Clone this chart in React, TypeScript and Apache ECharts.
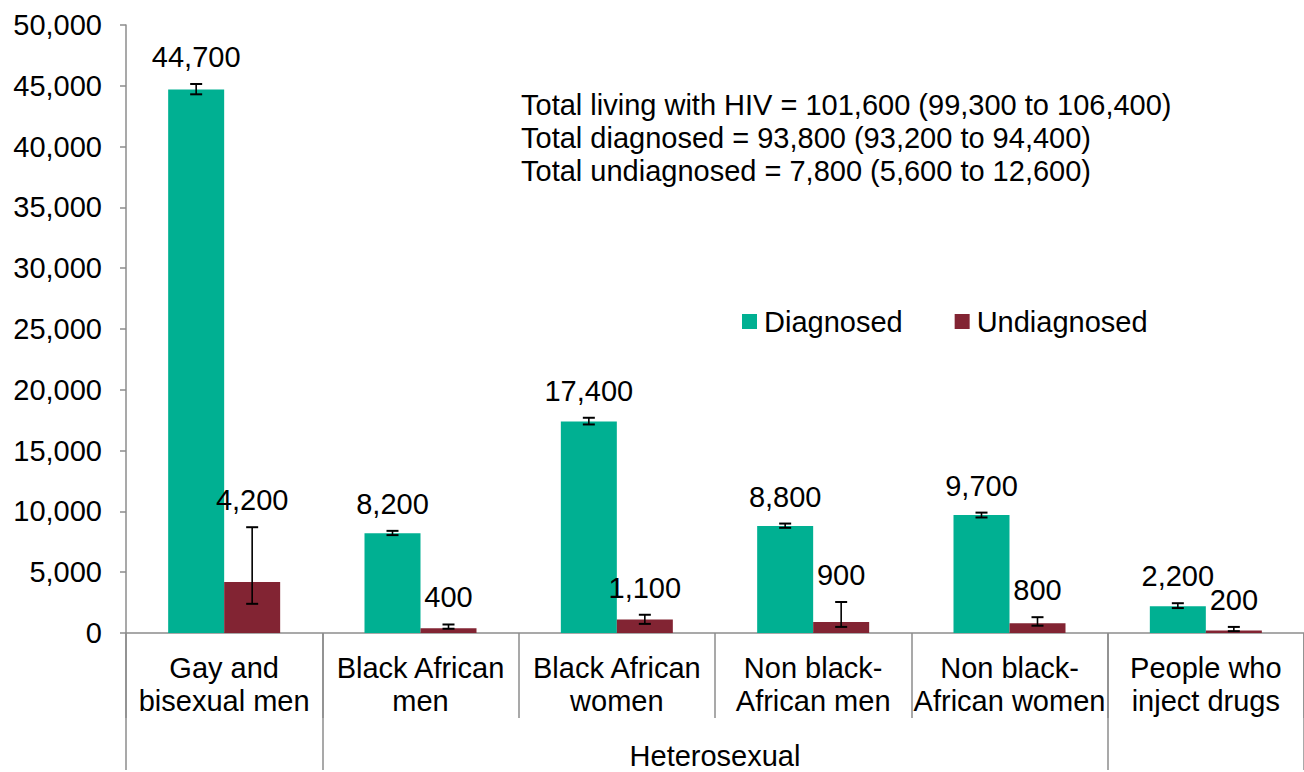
import React, { useEffect, useRef } from "react";
import * as echarts from "echarts";

const categories = [
  "Gay and\nbisexual men",
  "Black African\nmen",
  "Black African\nwomen",
  "Non black-\nAfrican men",
  "Non black-\nAfrican women",
  "People who\ninject drugs",
];
const diagnosed = [44700, 8200, 17400, 8800, 9700, 2200];
const undiagnosed = [4200, 400, 1100, 900, 800, 200];
const diagnosedLow = [44300, 8050, 17150, 8650, 9500, 2050];
const diagnosedHigh = [45150, 8400, 17700, 9000, 9900, 2450];
const undiagnosedLow = [2400, 350, 750, 500, 600, 150];
const undiagnosedHigh = [8700, 700, 1500, 2550, 1300, 500];
const groupLabel = "Heterosexual";
const totalsText = [
  "Total living with HIV = 101,600 (99,300 to 106,400)",
  "Total diagnosed = 93,800 (93,200 to 94,400)",
  "Total undiagnosed = 7,800 (5,600 to 12,600)",
];

const FONT = "'Liberation Sans', Arial, sans-serif";
const GREEN = "#00B092";
const RED = "#822433";
const GRAY = "#8c8c8c";
const BAR_W = 56;
const FS = 29;

const fmt = (v: number) => v.toLocaleString("en-US");

function errorSeries(name: string, values: number[], lows: number[], highs: number[], side: number) {
  const data = values.map((v, i) => [i, v, lows[i], highs[i]]);
  return {
    type: "custom",
    name: name + " error",
    xAxisIndex: 0,
    yAxisIndex: 0,
    z: 5,
    silent: true,
    data,
    renderItem: (params: any, api: any) => {
      const i = api.value(0);
      const v = api.value(1);
      const lo = api.value(2);
      const hi = api.value(3);
      const c = api.coord([i, v]);
      const x = c[0] + side * (BAR_W / 2);
      const yLo = api.coord([i, lo])[1];
      const yHi = api.coord([i, hi])[1];
      const ls = { stroke: "#000", lineWidth: 1.6 };
      const cs = { stroke: "#000", lineWidth: 2 };
      return {
        type: "group",
        children: [
          { type: "line", shape: { x1: x, y1: yLo, x2: x, y2: yHi }, style: ls },
          { type: "line", shape: { x1: x - 6, y1: yLo, x2: x + 6, y2: yLo }, style: cs },
          { type: "line", shape: { x1: x - 6, y1: yHi, x2: x + 6, y2: yHi }, style: cs },
          {
            type: "text",
            style: {
              text: fmt(v),
              x,
              y: yHi - 27,
              align: "center",
              verticalAlign: "middle",
              fontSize: FS,
              fontFamily: FONT,
              fill: "#000",
            },
          },
        ],
      };
    },
  };
}

export default function App() {
  const ref = useRef<HTMLDivElement>(null);
  useEffect(() => {
    document.body.style.margin = "0";
    const chart = echarts.init(ref.current!, null, { renderer: "svg" });
    chart.setOption({
      animation: false,
      textStyle: { fontFamily: FONT, color: "#000" },
      grid: { left: 126, right: 0, top: 25, bottom: 136, containLabel: false },
      legend: {
        data: ["Diagnosed", "Undiagnosed"],
        left: 742,
        top: 307,
        padding: 0,
        icon: "rect",
        itemWidth: 15,
        itemHeight: 15,
        itemGap: 52,
        textStyle: { fontSize: FS, fontFamily: FONT, color: "#000", padding: [0, 0, 0, 2] },
      },
      xAxis: [
        {
          type: "category",
          data: categories,
          position: "bottom",
          axisLine: { show: true, lineStyle: { color: GRAY, width: 1.5 } },
          axisTick: { show: true, interval: 0, length: 85, alignWithLabel: false, lineStyle: { color: GRAY, width: 1.5 } },
          axisLabel: { interval: 0, fontSize: FS, lineHeight: 33, margin: 18, color: "#000", fontFamily: FONT },
        },
        {
          type: "value",
          min: 0,
          max: 6,
          position: "bottom",
          axisLine: { show: false },
          splitLine: { show: false },
          axisTick: { show: true, customValues: [0, 1, 5, 6], length: 137, lineStyle: { color: GRAY, width: 1.5 } },
          axisLabel: {
            customValues: [3],
            formatter: () => groupLabel,
            fontSize: FS,
            lineHeight: 33,
            margin: 106,
            color: "#000",
            fontFamily: FONT,
          },
        },
      ],
      yAxis: {
        type: "value",
        min: 0,
        max: 50000,
        interval: 5000,
        axisLine: { show: true, lineStyle: { color: GRAY, width: 1.5 } },
        axisTick: { show: true, length: 6, lineStyle: { color: GRAY, width: 1.5 } },
        splitLine: { show: false },
        axisLabel: { fontSize: FS, margin: 24, color: "#000", fontFamily: FONT, formatter: (v: number) => fmt(v) },
      },
      graphic: [
        {
          type: "text",
          left: 521,
          top: 88,
          style: {
            text: totalsText.join("\n"),
            fontSize: FS,
            lineHeight: 33,
            fontFamily: FONT,
            fill: "#000",
          },
        },
      ],
      series: [
        {
          type: "bar",
          name: "Diagnosed",
          data: diagnosed,
          barWidth: BAR_W,
          barGap: "0%",
          itemStyle: { color: GREEN },
        },
        {
          type: "bar",
          name: "Undiagnosed",
          data: undiagnosed,
          barWidth: BAR_W,
          barGap: "0%",
          itemStyle: { color: RED },
        },
        errorSeries("Diagnosed", diagnosed, diagnosedLow, diagnosedHigh, -1),
        errorSeries("Undiagnosed", undiagnosed, undiagnosedLow, undiagnosedHigh, 1),
      ],
    });
    return () => chart.dispose();
  }, []);
  return <div ref={ref} style={{ width: 1304, height: 772 }} />;
}
